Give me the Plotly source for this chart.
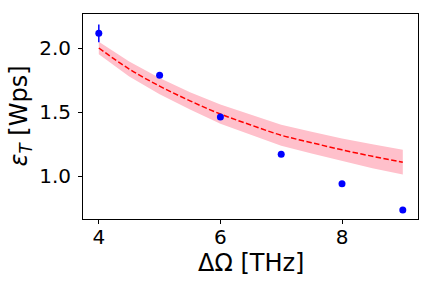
import plotly.graph_objects as go

# measured points
x_meas = [4, 5, 6, 7, 8, 9]
y_meas = [2.114, 1.787, 1.463, 1.172, 0.941, 0.738]
y_err = [0.07, 0.015, 0.006, 0.005, 0.005, 0.005]

# fitted curve and its uncertainty band
x_fit = [4.0, 4.5, 5.0, 5.5, 6.0, 6.5, 7.0, 7.5, 8.0, 8.5, 9.0]
y_fit = [2.000, 1.836, 1.703, 1.588, 1.485, 1.400, 1.320, 1.262, 1.206, 1.156, 1.110]
y_upper = [2.048, 1.895, 1.766, 1.656, 1.560, 1.478, 1.402, 1.347, 1.294, 1.249, 1.207]
y_lower = [1.952, 1.777, 1.640, 1.520, 1.410, 1.322, 1.238, 1.177, 1.118, 1.063, 1.013]

x_title = "ΔΩ [THz]"
y_title = "<i>ε</i><sub><i>T</i></sub> [Wps]"

fig = go.Figure()
fig.add_trace(go.Scatter(x=x_fit, y=y_lower, mode="lines", line=dict(width=0, color="pink"),
                         showlegend=False, hoverinfo="skip"))
fig.add_trace(go.Scatter(x=x_fit, y=y_upper, mode="lines", line=dict(width=0, color="pink"),
                         fill="tonexty", fillcolor="#FFC0CB", showlegend=False, hoverinfo="skip"))
fig.add_trace(go.Scatter(x=x_fit, y=y_fit, mode="lines", line=dict(color="red", width=1.5, dash="5.5px,2.4px"),
                         showlegend=False, line_shape="spline"))
fig.add_trace(go.Scatter(x=x_meas, y=y_meas, mode="markers",
                         marker=dict(color="blue", size=7),
                         error_y=dict(type="data", array=y_err, color="blue", thickness=1.5, width=0),
                         showlegend=False))

axis_common = dict(showline=True, linecolor="black", linewidth=1, mirror=True, ticks="outside",
                   ticklen=4, tickwidth=1, tickcolor="black", showgrid=False, zeroline=False,
                   automargin=False,
                   tickfont=dict(family="DejaVu Sans", size=20, color="black"))

fig.update_layout(
    width=432, height=288,
    margin=dict(l=83, r=14, t=14, b=69),
    paper_bgcolor="white", plot_bgcolor="white",
    xaxis=dict(range=[3.74, 9.25], tickvals=[4, 6, 8], ticktext=["4", "6", "8"],
               ticklabelstandoff=-4, **axis_common),
    yaxis=dict(range=[0.667, 2.265], tickvals=[1.0, 1.5, 2.0], ticktext=["1.0", "1.5", "2.0"],
               ticklabelstandoff=3, **axis_common),
    annotations=[
        dict(text=x_title, xref="paper", yref="paper", x=0.5, y=-0.2146, xanchor="center", yanchor="middle",
             showarrow=False, font=dict(family="DejaVu Sans", size=24, color="black")),
        dict(text=y_title, xref="paper", yref="paper", x=-0.188, y=0.5, xanchor="center", yanchor="middle",
             textangle=-90, showarrow=False, font=dict(family="DejaVu Sans", size=24, color="black")),
    ],
)

fig.write_html("out.html", config={"displayModeBar": False},
               post_script="document.body.style.margin='0';document.body.style.overflow='hidden';")
